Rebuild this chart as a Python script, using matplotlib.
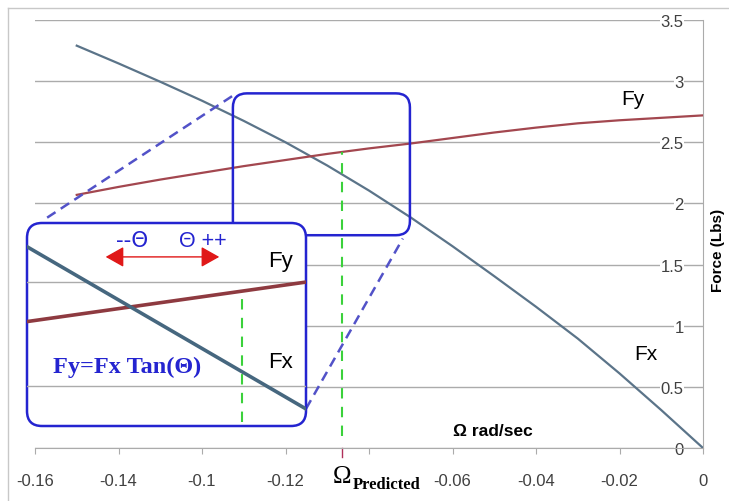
import matplotlib
matplotlib.use("Agg")
import matplotlib.pyplot as plt
import numpy as np
from matplotlib.patches import FancyBboxPatch
from matplotlib.lines import Line2D

# rotation rate (rad/sec) and the two force components (Lbs)
omega = [-0.15, -0.14, -0.13, -0.12, -0.11, -0.10, -0.09, -0.08,
         -0.07, -0.06, -0.05, -0.04, -0.03, -0.02, -0.01, 0.0]
fx = [3.29, 3.145, 2.995, 2.84, 2.675, 2.50, 2.31, 2.105,
      1.885, 1.65, 1.405, 1.155, 0.895, 0.61, 0.31, 0.0]
fy = [2.07, 2.135, 2.195, 2.25, 2.305, 2.355, 2.405, 2.45,
      2.49, 2.535, 2.58, 2.62, 2.655, 2.68, 2.70, 2.72]

omega_pred = -0.0865

xtick_pos = [-0.16, -0.14, -0.12, -0.10, -0.08, -0.06, -0.04, -0.02, 0.0]
xtick_lab = ['-0.16', '-0.14', '-0.1', '-0.12', '', '-0.06', '-0.04', '-0.02', '0']
ytick_pos = [0, 0.5, 1, 1.5, 2, 2.5, 3, 3.5]
ytick_lab = ['0', '0.5', '1', '1.5', '2', '2.5', '3', '3.5']

# zoom window (main data units) and its enlarged copy
zoom_x = [-0.1126, -0.0702]
zoom_y = [1.74, 2.90]
inset_x = [-0.1126, -0.0702]
inset_fx = [2.67, 1.89]
inset_fy = [2.31, 2.50]
inset_ylim = [1.808, 2.784]
inset_grid = [2.0, 2.5]
inset_marker = -0.080

fx_col = '#5b7489'
fy_col = '#a3474f'
blue = '#2424d0'
grid_col = '#ababab'

W, H = 729, 502
fig = plt.figure(figsize=(W / 100, H / 100), dpi=100)
ax = fig.add_axes([35 / W, 53 / H, 668 / W, 428 / H])
ax.set_xlim(-0.16, 0)
ax.set_ylim(0, 3.5)

ax.grid(axis='y', color=grid_col, lw=1)
ax.set_axisbelow(True)
for s in ['top', 'left']:
    ax.spines[s].set_visible(False)
for s in ['bottom', 'right']:
    ax.spines[s].set_color(grid_col)

ax.set_xticks(xtick_pos)
ax.set_xticklabels(xtick_lab)
ax.tick_params(axis='x', direction='out', length=4, color=grid_col,
               labelsize=12, labelcolor='#404040', pad=14)
ax.yaxis.tick_right()
ax.set_yticks(ytick_pos)
ax.set_yticklabels(ytick_lab)
ax.tick_params(axis='y', length=0, pad=-14, labelsize=12, labelcolor='#404040')
for t in ax.get_yticklabels():
    t.set_ha('right')
    t.set_bbox(dict(fc='white', ec='none', pad=0.5))
for t in ax.get_xticklabels() + ax.get_yticklabels():
    t.set_family('Liberation Sans')

ax.plot(omega, fx, color=fx_col, lw=1.6, zorder=3)
ax.plot(omega, fy, color=fy_col, lw=1.6, zorder=3)

# predicted rate marker
fy_pred = np.interp(omega_pred, omega, fy)
ax.vlines(omega_pred, 0.1, fy_pred, colors='#3bd13b', linestyles=(0, (5, 4)),
          lw=1.5, zorder=4)
ax.plot([omega_pred, omega_pred], [0, -0.07], color='#b0305a', lw=1, clip_on=False)
ax.annotate('Ω', xy=(omega_pred, 0), xytext=(0, -28), textcoords='offset pixels',
            ha='center', va='center', fontsize=18, family='Liberation Serif')
ax.annotate('Predicted', xy=(omega_pred, 0), xytext=(11, -36), textcoords='offset pixels',
            ha='left', va='center', fontsize=12, weight='bold', family='Liberation Serif')

ax.text(-0.0503, 0.14, 'Ω rad/sec', ha='center', va='center', fontsize=12.5,
        weight='bold', family='Liberation Sans')
ax.text(-0.0168, 2.86, 'Fy', ha='center', va='center', fontsize=15, family='Liberation Sans')
ax.text(-0.0138, 0.77, 'Fx', ha='center', va='center', fontsize=15, family='Liberation Sans')
fig.text(718 / W, 1 - 250 / H, 'Force (Lbs)', rotation=90, ha='center', va='center',
         fontsize=11, weight='bold', family='Liberation Sans')

# zoom window on the main chart
px_x = 0.02 / 83.5
px_y = 0.5 / 61
zoom_box = FancyBboxPatch((zoom_x[0], zoom_y[0]), zoom_x[1] - zoom_x[0], zoom_y[1] - zoom_y[0],
                          boxstyle=f"round,pad=0,rounding_size={14 * px_x}",
                          mutation_aspect=px_y / px_x, fc='none', ec=blue, lw=1.8,
                          zorder=6, clip_on=False)
ax.add_patch(zoom_box)
conn = dict(color='#5252c8', lw=1.8, ls=(0, (4, 2.5)), zorder=6, clip_on=False)
ax.plot([-0.1128, -0.1581], [2.877, 1.861], **conn)
ax.plot([-0.0951, -0.0719], [0.32, 1.713], **conn)

# enlarged view
ins = fig.add_axes([27 / W, 75 / H, 279 / W, 203 / H])
ins.set_xlim(inset_x)
ins.set_ylim(inset_ylim)
ins.axis('off')
frame = FancyBboxPatch((0, 0), 1, 1, boxstyle=f"round,pad=0,rounding_size={15 / 279}",
                       mutation_aspect=279 / 203, transform=ins.transAxes,
                       fc='white', ec=blue, lw=1.8, zorder=0, clip_on=False)
ins.add_patch(frame)
for g in inset_grid:
    ln = ins.axhline(g, color=grid_col, lw=1, zorder=1)
    ln.set_clip_path(frame)
l1, = ins.plot(inset_x, inset_fy, color='#8e3a40', lw=2.6, zorder=2)
l2, = ins.plot(inset_x, inset_fx, color='#46677f', lw=2.6, zorder=3)
l1.set_clip_path(frame)
l2.set_clip_path(frame)
fy_mark = np.interp(inset_marker, inset_x, inset_fy)
ins.vlines(inset_marker, inset_ylim[0] + 0.02, fy_mark, colors='#3bd13b',
           linestyles=(0, (5, 4)), lw=1.5, zorder=2)

ins.annotate('', xy=(0.272, 0.833), xytext=(0.699, 0.833), xycoords='axes fraction',
             arrowprops=dict(arrowstyle='<|-|>,head_length=0.8,head_width=0.45',
                             color='#e01818', lw=1, mutation_scale=14))
ins.text(0.376, 0.916, '--Θ', transform=ins.transAxes, ha='center', va='center',
         fontsize=15.5, color=blue, family='DejaVu Sans')
ins.text(0.631, 0.916, 'Θ ++', transform=ins.transAxes, ha='center', va='center',
         fontsize=15.5, color=blue, family='Liberation Sans')
ins.text(0.907, 0.813, 'Fy', transform=ins.transAxes, ha='center', va='center',
         fontsize=16, family='Liberation Sans')
ins.text(0.907, 0.320, 'Fx', transform=ins.transAxes, ha='center', va='center',
         fontsize=16, family='Liberation Sans')
ins.text(0.358, 0.295, 'Fy=Fx Tan(Θ)', transform=ins.transAxes, ha='center', va='center',
         fontsize=17.5, weight='bold', color=blue, family='Liberation Serif')

# outer frame
fig.add_artist(Line2D([8 / W, 8 / W], [0, 1 - 9 / H], transform=fig.transFigure,
                      color='#c8c8c8', lw=1))
fig.add_artist(Line2D([8 / W, 1], [1 - 9 / H, 1 - 9 / H], transform=fig.transFigure,
                      color='#c8c8c8', lw=1))

fig.savefig('out.png', dpi=100)
